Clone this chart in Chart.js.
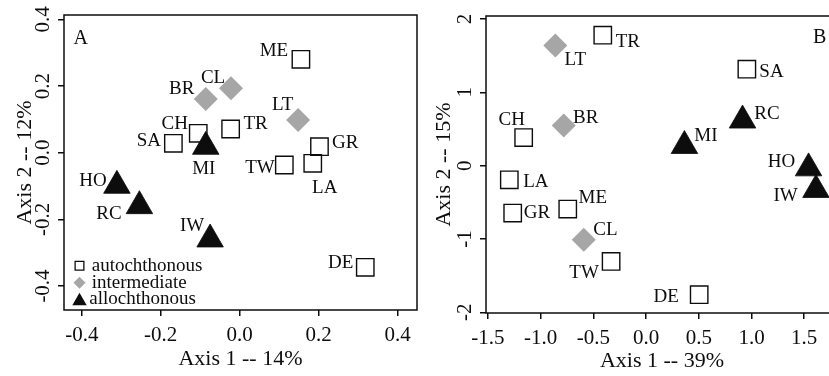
<!DOCTYPE html>
<html><head><meta charset="utf-8">
<script src="https://cdn.jsdelivr.net/npm/chart.js@4/dist/chart.umd.min.js"></script>
<style>
html,body{margin:0;padding:0;background:#fff;overflow:hidden;width:829px;height:376px;}
#wrapA{position:absolute;left:0;top:0;width:420px;height:376px;}
#wrapB{position:absolute;left:420px;top:0;width:420px;height:376px;}
canvas{display:block;}
</style></head><body>
<div id="wrapA"><canvas id="chartA" width="420" height="376"></canvas></div>
<div id="wrapB"><canvas id="chartB" width="420" height="376"></canvas></div>
<script>
// ---------- DATA ----------
const groups = ['autochthonous', 'intermediate', 'allochthonous'];
const sites = ['ME','CL','BR','LT','CH','TR','SA','MI','GR','TW','LA','HO','RC','IW','DE'];
const siteGroup = ['autochthonous','intermediate','intermediate','intermediate','autochthonous',
  'autochthonous','autochthonous','allochthonous','autochthonous','autochthonous','autochthonous',
  'allochthonous','allochthonous','allochthonous','autochthonous'];

// Panel A
const axis1A = [0.155, -0.022, -0.086, 0.148, -0.105, -0.023, -0.168, -0.086, 0.202, 0.113, 0.185, -0.311, -0.254, -0.075, 0.318];
const axis2A = [0.280, 0.193, 0.161, 0.098, 0.058, 0.071, 0.028, 0.018, 0.018, -0.037, -0.032, -0.099, -0.160, -0.260, -0.344];
const xTicksA = [-0.4, -0.2, 0.0, 0.2, 0.4];
const yTicksA = [-0.4, -0.2, 0.0, 0.2, 0.4];
const xTitleA = 'Axis 1 -- 14%';
const yTitleA = 'Axis 2 -- 12%';

// Panel B
const axis1B = [-0.742, -0.590, -0.780, -0.860, -1.160, -0.410, 0.956, 0.364, -1.264, -0.331, -1.296, 1.541, 0.915, 1.611, 0.504];
const axis2B = [-0.593, -1.011, 0.546, 1.640, 0.383, 1.780, 1.315, 0.270, -0.647, -1.307, -0.193, -0.035, 0.617, -0.330, -1.760];
const xTicksB = [-1.5, -1.0, -0.5, 0.0, 0.5, 1.0, 1.5];
const yTicksB = [-2, -1, 0, 1, 2];
const xTitleB = 'Axis 1 -- 39%';
const yTitleB = 'Axis 2 -- 15%';

// ---------- STYLE / LAYOUT ----------
const FONT = 'Liberation Serif';
const INK = '#0d0d0d';
const GREY = '#a6a6a6';
const groupStyle = {
  autochthonous: {style: 'rect', r: 12.3, bg: 'rgba(0,0,0,0)', border: INK, bw: 1.4},
  intermediate:  {style: 'rectRot', r: 12, bg: GREY, border: GREY, bw: 0},
  allochthonous: {style: 'triangle', r: 15.3, bg: INK, border: INK, bw: 0.8}
};
// label centre offsets (px) relative to marker centre
const labelOffsetA = {ME:[-27,-10], CL:[-18,-11.6], BR:[-24,-11], LT:[-15.5,-16], CH:[-23.6,-11], TR:[25,-6.5],
  SA:[-24.6,-4], MI:[-2,20.6], GR:[25.7,-4.7], TW:[-24.3,2], LA:[12,23], HO:[-24,-6.3], RC:[-30.5,6.6], IW:[-18,-15], DE:[-24.5,-6]};
const labelOffsetB = {TR:[25,5.5], LT:[20,13], CH:[-12,-19], BR:[22,-9], SA:[24.6,1.5], RC:[24.4,-8], MI:[21.5,-11],
  HO:[-27,-7.6], IW:[-30.4,5.2], LA:[26.5,1], GR:[24.3,-1], ME:[25,-12], CL:[21.6,-11], TW:[-27,10.5], DE:[-33,1]};

function drawShape(ctx, style, x, y, r, bg, border, bw) {
  ctx.save();
  ctx.beginPath();
  if (style === 'rect') {
    const h = r * Math.SQRT1_2;
    ctx.rect(x - h, y - h, 2 * h, 2 * h);
  } else if (style === 'rectRot') {
    ctx.moveTo(x - r, y); ctx.lineTo(x, y - r); ctx.lineTo(x + r, y); ctx.lineTo(x, y + r); ctx.closePath();
  } else {
    const a = 2 * Math.PI / 3;
    ctx.moveTo(x, y - r);
    ctx.lineTo(x + Math.sin(a) * r, y - Math.cos(a) * r);
    ctx.lineTo(x + Math.sin(2 * a) * r, y - Math.cos(2 * a) * r);
    ctx.closePath();
  }
  ctx.fillStyle = bg; ctx.fill();
  if (bw > 0) { ctx.lineWidth = bw; ctx.strokeStyle = border; ctx.stroke(); }
  ctx.restore();
}

function makeChart(id, cfg) {
  const datasets = groups.map(g => {
    const st = groupStyle[g];
    const data = [];
    sites.forEach((s, i) => { if (siteGroup[i] === g) data.push({x: cfg.x[i], y: cfg.y[i], site: s}); });
    return {label: g, data, showLine: false, clip: false,
      pointStyle: st.style, pointRadius: st.r, pointHoverRadius: st.r,
      pointBackgroundColor: st.bg, pointBorderColor: st.border, pointBorderWidth: st.bw,
      backgroundColor: st.bg, borderColor: st.border};
  });

  const decor = {
    id: 'decor' + id,
    beforeDatasetsDraw(chart) {
      const {ctx, chartArea: a} = chart;
      ctx.save();
      ctx.strokeStyle = INK; ctx.lineWidth = 1.5;
      ctx.strokeRect(a.left, a.top, a.right - a.left, a.bottom - a.top);
      ctx.restore();
    },
    afterDatasetsDraw(chart) {
      const {ctx, chartArea: a} = chart;
      ctx.save();
      ctx.fillStyle = INK;
      ctx.font = '19px "' + FONT + '"';
      ctx.textAlign = 'center';
      ctx.textBaseline = 'alphabetic';
      const capHalf = 0.662 * 19 / 2;
      chart.data.datasets.forEach((ds, di) => {
        const meta = chart.getDatasetMeta(di);
        meta.data.forEach((el, k) => {
          const s = ds.data[k].site;
          const off = cfg.labelOffset[s] || [0, 0];
          ctx.fillText(s, el.x + off[0], el.y + off[1] + capHalf);
        });
      });
      // panel letter
      ctx.textAlign = 'left';
      ctx.font = '20px "' + FONT + '"';
      const lp = cfg.letterPos(a);
      ctx.fillText(cfg.letter, lp[0], lp[1]);
      // legend
      if (cfg.legend) {
        ctx.font = '19px "' + FONT + '"';
        const L = cfg.legend;
        groups.forEach((g, i) => {
          const st = groupStyle[g];
          drawShape(ctx, st.style, a.left + L.iconX, a.bottom - L.iconY[i], L.iconR[i], st.bg, st.border, st.style === 'rect' ? 1.3 : 0);
          ctx.fillStyle = INK;
          ctx.fillText(g, a.left + L.textX[i], a.bottom - L.textY[i]);
        });
      }
      ctx.restore();
    }
  };

  const tickFont = {family: FONT, size: 21};
  const titleFont = {family: FONT, size: 22};
  const grid = {display: true, drawOnChartArea: false, drawTicks: true, tickLength: 6, color: INK, lineWidth: 1.5};

  return new Chart(document.getElementById(id), {
    type: 'scatter',
    data: {datasets},
    options: {
      responsive: false, animation: false, events: [],
      devicePixelRatio: 1,
      layout: {autoPadding: false, padding: {top: cfg.padTop, right: cfg.padRight, left: 0, bottom: 0}},
      plugins: {legend: {display: false}, tooltip: {enabled: false}},
      scales: {
        x: {
          type: 'linear', position: 'bottom', min: cfg.xmin, max: cfg.xmax,
          afterBuildTicks: s => { s.ticks = cfg.xt.map(v => ({value: v})); },
          afterFit: s => { s.height = cfg.xAxisH; s.paddingLeft = 0; s.paddingRight = 0; s.paddingTop = 0; s.paddingBottom = 0; },
          grid, border: {display: false},
          ticks: {font: tickFont, color: INK, padding: 7, autoSkip: false, maxRotation: 0, minRotation: 0,
            callback: v => cfg.xfmt(v)},
          title: {display: true, text: cfg.xTitle, font: titleFont, color: INK, padding: {top: 0, bottom: cfg.xTitlePad}}
        },
        y: {
          type: 'linear', position: 'left', min: cfg.ymin, max: cfg.ymax,
          afterBuildTicks: s => { s.ticks = cfg.yt.map(v => ({value: v})); },
          afterFit: s => { s.width = cfg.yAxisW; s.paddingLeft = 0; s.paddingRight = 0; s.paddingTop = 0; s.paddingBottom = 0; },
          grid, border: {display: false},
          ticks: {font: tickFont, color: INK, padding: cfg.yTickPad, autoSkip: false, minRotation: 90, maxRotation: 90,
            crossAlign: 'center', callback: v => cfg.yfmt(v)},
          title: {display: true, text: cfg.yTitle, font: titleFont, color: INK, padding: {top: cfg.yTitlePad, bottom: 0}}
        }
      }
    },
    plugins: [decor]
  });
}

makeChart('chartA', {
  x: axis1A, y: axis2A, xt: xTicksA, yt: yTicksA,
  xmin: -0.445, xmax: 0.449, ymin: -0.472, ymax: 0.413,
  xfmt: v => v.toFixed(1), yfmt: v => v.toFixed(1),
  xTitle: xTitleA, yTitle: yTitleA,
  padTop: 15, padRight: 3, xAxisH: 66, yAxisW: 64,
  yTickPad: -2, xTitlePad: 4, yTitlePad: 12,
  labelOffset: labelOffsetA,
  letter: 'A', letterPos: a => [a.left + 9.5, a.top + 28.5],
  legend: {iconX: 15.5, iconY: [44.2, 27.3, 9], iconR: [6.2, 6, 8.3], textX: [27.7, 27.7, 25.3], textY: [39, 21.7, 6]}
});

makeChart('chartB', {
  x: axis1B, y: axis2B, xt: xTicksB, yt: yTicksB,
  xmin: -1.517, xmax: 1.82, ymin: -2.01, ymax: 2.041,
  xfmt: v => v.toFixed(1), yfmt: v => String(v),
  xTitle: xTitleB, yTitle: yTitleB,
  padTop: 16, padRight: 2, xAxisH: 63, yAxisW: 66,
  yTickPad: 6, xTitlePad: 1.5, yTitlePad: 11,
  labelOffset: labelOffsetB,
  letter: 'B', letterPos: a => [a.left + 327, a.top + 27.3],
  legend: null
});
</script>
</body></html>
